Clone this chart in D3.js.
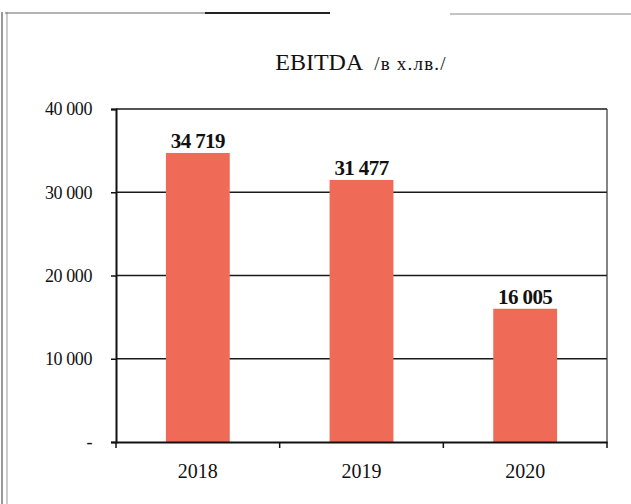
<!DOCTYPE html>
<html>
<head>
<meta charset="utf-8">
<script src="https://cdn.jsdelivr.net/npm/d3@7"></script>
<style>
  html, body { margin: 0; padding: 0; background: #fff; }
  svg { display: block; }
  svg text { font-family: "Liberation Serif", "Times New Roman", serif !important; fill: #111; }
</style>
</head>
<body>
<svg id="chart" width="631" height="504"></svg>
<script>
const categories = ["2018", "2019", "2020"];
const values = [34719, 31477, 16005];
const valueLabels = ["34 719", "31 477", "16 005"];
const yTicks = [0, 10000, 20000, 30000, 40000];
const yTickLabels = ["-", "10 000", "20 000", "30 000", "40 000"];
const titleMain = "EBITDA";
const titleUnit = "/в х.лв./";

(function () {
const svg = d3.select("#chart");
const pLeft = 116, pRight = 607, pTop = 109, pBottom = 442;
const serif = "'Liberation Serif', 'Times New Roman', serif";

// outer frame (scanned border)
svg.append("line").attr("x1", 2).attr("x2", 2).attr("y1", 12).attr("y2", 504)
  .attr("stroke", "#777").attr("stroke-width", 1.5);
svg.append("line").attr("x1", 7).attr("x2", 7).attr("y1", 12).attr("y2", 504)
  .attr("stroke", "#999").attr("stroke-width", 1);
svg.append("line").attr("x1", 5).attr("x2", 250).attr("y1", 13).attr("y2", 13)
  .attr("stroke", "#666").attr("stroke-width", 1);
svg.append("line").attr("x1", 205).attr("x2", 330).attr("y1", 13).attr("y2", 13)
  .attr("stroke", "#222").attr("stroke-width", 2);
svg.append("line").attr("x1", 450).attr("x2", 631).attr("y1", 14).attr("y2", 14)
  .attr("stroke", "#888").attr("stroke-width", 1);

const x = d3.scaleBand().domain(categories).range([pLeft, pRight]).paddingInner(0.61).paddingOuter(0.305);
const xb = d3.scaleBand().domain(categories).range([pLeft, pRight]);
const y = d3.scaleLinear().domain([0, 40000]).range([pBottom, pTop]);

// gridlines
svg.append("g").selectAll("line").data(yTicks.filter(d => d > 0)).join("line")
  .attr("x1", pLeft).attr("x2", pRight)
  .attr("y1", d => y(d)).attr("y2", d => y(d))
  .attr("stroke", "#1a1a1a").attr("stroke-width", 1.4);

// right border
svg.append("line").attr("x1", pRight).attr("x2", pRight).attr("y1", pTop).attr("y2", pBottom)
  .attr("stroke", "#333").attr("stroke-width", 1.2);

// bars
svg.append("g").selectAll("rect").data(values).join("rect")
  .attr("x", (d, i) => x(categories[i]))
  .attr("width", x.bandwidth())
  .attr("y", d => y(d))
  .attr("height", d => pBottom - y(d))
  .attr("fill", "#EF6B57");

// value labels
svg.append("g").selectAll("text").data(values).join("text")
  .attr("x", (d, i) => x(categories[i]) + x.bandwidth() / 2)
  .attr("y", d => y(d) - 5)
  .attr("text-anchor", "middle")
  .style("font-family", serif)
  .attr("font-size", 21).attr("font-weight", "bold")
  .attr("letter-spacing", -0.6)
  .text((d, i) => valueLabels[i]);

// y axis
const yAxis = d3.axisLeft(y).tickValues(yTicks)
  .tickFormat((d, i) => yTickLabels[i]).tickSize(5).tickPadding(19);
const gy = svg.append("g").attr("transform", `translate(${pLeft},0)`).call(yAxis);
gy.attr("font-family", null);
gy.select(".domain").attr("stroke", "#111").attr("stroke-width", 2);
gy.selectAll(".tick line").attr("stroke", "#111").attr("stroke-width", 1.5);
gy.selectAll(".tick text").style("font-family", serif).attr("font-size", 18)
  .attr("fill", "#111").attr("letter-spacing", -0.4);

// x axis
const xAxis = d3.axisBottom(xb).tickSize(0).tickPadding(22);
const gx = svg.append("g").attr("transform", `translate(0,${pBottom})`).call(xAxis);
gx.attr("font-family", null);
gx.select(".domain").attr("stroke", "#111").attr("stroke-width", 2.2);
gx.selectAll(".tick text").style("font-family", serif).attr("font-size", 20).attr("fill", "#111");
// category boundary ticks
const bounds = [pLeft].concat(categories.slice(1).map(c => xb(c))).concat([pRight]);
svg.append("g").selectAll("line").data(bounds).join("line")
  .attr("x1", d => d).attr("x2", d => d)
  .attr("y1", pBottom).attr("y2", pBottom + 6)
  .attr("stroke", "#111").attr("stroke-width", 1.5);

// title
const t = svg.append("text").attr("x", 361).attr("y", 70).attr("text-anchor", "middle")
  .style("font-family", serif);
t.append("tspan").attr("font-size", 24).text(titleMain);
t.append("tspan").attr("font-size", 19).attr("dx", 11).attr("letter-spacing", 1.2).text(titleUnit);
})();
</script>
</body>
</html>
